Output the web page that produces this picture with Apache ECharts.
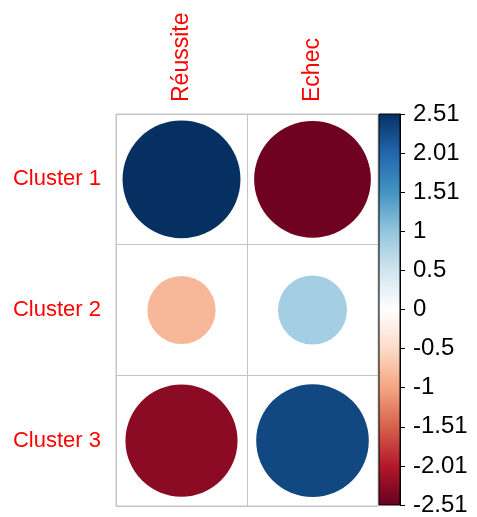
<!DOCTYPE html>
<html>
<head>
    <meta charset="utf-8"/>
    <title>Corrplot clusters</title>
</head>
<body style="margin:0;background:#fff">
<script type="text/javascript" src="https://cdn.jsdelivr.net/npm/echarts@6/dist/echarts.min.js"></script>

<div id="main" style="width: 477px;height:517px;"></div>

<script type="text/javascript">
    // data
    var columns = ['Réussite', 'Echec'];
    var clusters = ['Cluster 1', 'Cluster 2', 'Cluster 3'];
    var reussite = [2.51, -0.84, -2.27];
    var echec = [-2.46, 0.86, 2.29];
    var barLabels = ['-2.51', '-2.01', '-1.51', '-1', '-0.5', '0', '0.5', '1', '1.51', '2.01', '2.51'];
    var limit = 2.51;

    // RdBu palette (corrplot COL2)
    var palette = ['#67001F', '#B2182B', '#D6604D', '#F4A582', '#FDDBC7', '#FFFFFF',
                   '#D1E5F0', '#92C5DE', '#4393C3', '#2166AC', '#053061'];

    var points = [];
    for (var i = 0; i < clusters.length; i++) {
        points.push([0, i, reussite[i]]);
        points.push([1, i, echec[i]]);
    }

    var cell = 131;
    var step = (2 * limit) / 10;

    var myChart = echarts.init(document.getElementById('main'));

    var stops = palette.map(function (c, k) {
        return {offset: 1 - k / (palette.length - 1), color: c};
    });

    var option = {
        animation: false,
        textStyle: {fontFamily: 'Liberation Sans, Arial, sans-serif'},
        grid: [
            {left: 116, top: 114, width: 262, height: 392, show: true, borderColor: '#c4c4c4', borderWidth: 1},
            {left: 379, top: 114, width: 21, height: 392}
        ],
        xAxis: [
            {
                type: 'category', gridIndex: 0, data: columns, position: 'top',
                axisLine: {show: false}, axisTick: {show: false},
                axisLabel: {rotate: -90, color: '#ff0000', fontSize: 23, margin: 12},
                splitLine: {show: true, lineStyle: {color: '#c4c4c4', width: 1}}
            },
            {
                type: 'category', gridIndex: 1, data: [''],
                show: false
            }
        ],
        yAxis: [
            {
                type: 'category', gridIndex: 0, data: clusters, inverse: true,
                axisLine: {show: false}, axisTick: {show: false},
                axisLabel: {color: '#ff0000', fontSize: 22, margin: 15},
                splitLine: {show: true, lineStyle: {color: '#c4c4c4', width: 1}}
            },
            {
                type: 'value', gridIndex: 1, position: 'right',
                min: -limit, max: limit, interval: step,
                axisLine: {show: true, lineStyle: {color: '#000', width: 1}},
                axisTick: {show: true, length: 5, lineStyle: {color: '#000'}},
                splitLine: {show: false},
                axisLabel: {
                    color: '#000', fontSize: 24, margin: 13,
                    formatter: function (v) {
                        return barLabels[Math.round((v + limit) / step)];
                    }
                }
            }
        ],
        visualMap: {
            show: false, type: 'continuous', seriesIndex: 0, dimension: 2,
            min: -limit, max: limit, inRange: {color: palette}
        },
        series: [
            {
                type: 'scatter', xAxisIndex: 0, yAxisIndex: 0,
                symbol: 'circle',
                itemStyle: {opacity: 1},
                symbolSize: function (d) {
                    return 0.9 * cell * Math.sqrt(Math.abs(d[2]) / limit);
                },
                data: points
            },
            {
                type: 'custom', xAxisIndex: 1, yAxisIndex: 1,
                data: [[0, -limit, limit]],
                renderItem: function (params, api) {
                    var top = api.coord([0, api.value(2)]);
                    var bottom = api.coord([0, api.value(1)]);
                    var w = api.size([1, 0])[0];
                    return {
                        type: 'rect',
                        shape: {x: top[0] - w / 2, y: top[1], width: w, height: bottom[1] - top[1]},
                        style: {
                            fill: {type: 'linear', x: 0, y: 0, x2: 0, y2: 1, colorStops: stops},
                            stroke: '#000', lineWidth: 1
                        }
                    };
                }
            }
        ]
    };

    myChart.setOption(option);
</script>
</body>
</html>
